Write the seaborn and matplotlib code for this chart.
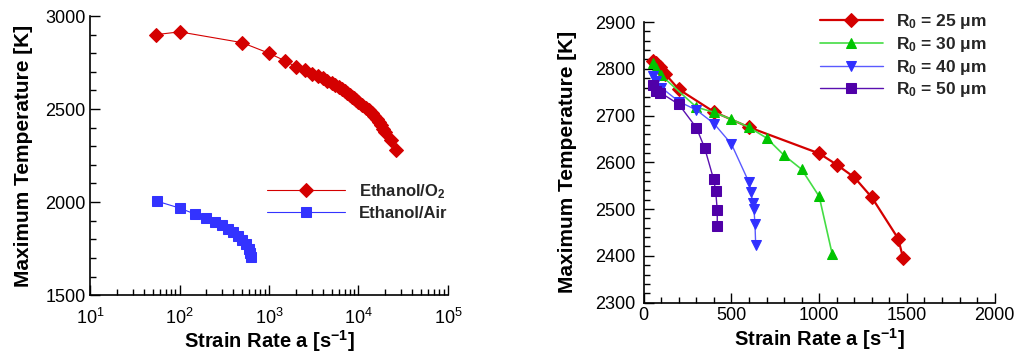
import numpy as np
import pandas as pd
import seaborn as sns
import matplotlib.pyplot as plt
from matplotlib.ticker import MultipleLocator, LogLocator, FuncFormatter, NullFormatter

# left panel: flame max temperature vs strain rate (log x)
o2_strain = [55, 100, 500, 1000, 1500, 2000, 2500, 3000, 3500, 4000, 4500, 5000, 5500,
             6000, 6500, 7000, 7500, 8000, 8500, 9000, 9500, 10000, 11000, 12000, 13000,
             14000, 15000, 16000, 17000, 18000, 19000, 20000, 23000, 26000]
o2_temp = [2900, 2915, 2857, 2800, 2760, 2727, 2708, 2690, 2677, 2665, 2652, 2640, 2628,
           2617, 2606, 2595, 2585, 2575, 2566, 2557, 2548, 2540, 2524, 2508, 2493,
           2478, 2462, 2446, 2430, 2413, 2395, 2376, 2333, 2282]
air_strain = [56, 100, 150, 200, 250, 300, 350, 400, 450, 500, 550, 600, 620, 625]
air_temp = [2005, 1968, 1935, 1914, 1892, 1876, 1855, 1837, 1817, 1796, 1773, 1747, 1724, 1705]

# right panel: droplet radius series
r25_strain = [50, 70, 90, 120, 200, 400, 600, 1000, 1100, 1200, 1300, 1450, 1478]
r25_temp = [2817, 2812, 2804, 2790, 2756, 2708, 2675, 2619, 2595, 2568, 2525, 2437, 2396]
r30_strain = [52, 68, 97, 300, 400, 500, 600, 700, 800, 900, 1000, 1074]
r30_temp = [2813, 2801, 2787, 2718, 2707, 2692, 2675, 2652, 2615, 2585, 2527, 2404]
r40_strain = [50, 70, 100, 200, 300, 400, 500, 600, 611, 621, 628, 634, 638]
r40_temp = [2785, 2775, 2760, 2730, 2712, 2683, 2639, 2557, 2537, 2514, 2500, 2468, 2423]
r50_strain = [53, 68, 95, 200, 300, 347, 398, 410, 419, 419]
r50_temp = [2765, 2753, 2749, 2724, 2674, 2631, 2564, 2539, 2497, 2464]

sns.set_theme(style="ticks")
plt.rcParams['font.family'] = ['Liberation Sans', 'DejaVu Sans']
plt.rcParams['mathtext.fontset'] = 'custom'
plt.rcParams['mathtext.rm'] = 'Liberation Sans'
plt.rcParams['mathtext.bf'] = 'Liberation Sans:bold'
plt.rcParams['mathtext.it'] = 'Liberation Sans:italic'

fig = plt.figure(figsize=(10.17, 3.56), dpi=100)
ax1 = fig.add_axes([0.0885, 0.171, 0.352, 0.784])
ax2 = fig.add_axes([0.633, 0.150, 0.345, 0.788])

red = '#d40000'
blue = '#3333ff'

sns.lineplot(x=o2_strain, y=o2_temp, ax=ax1, color=red, marker='D', markersize=7,
             markeredgecolor=red, linewidth=0.8, sort=False, estimator=None,
             label=r'Ethanol/O$_\mathbf{2}$')
sns.lineplot(x=air_strain, y=air_temp, ax=ax1, color=blue, marker='s', markersize=6.5,
             markeredgecolor=blue, linewidth=0.8, sort=False, estimator=None,
             label='Ethanol/Air')

ax1.set_xscale('log')
ax1.set_xlim(10, 1e5)
ax1.set_ylim(1500, 3000)
ax1.yaxis.set_major_locator(MultipleLocator(500))
ax1.yaxis.set_minor_locator(MultipleLocator(100))
ax1.xaxis.set_major_locator(LogLocator(base=10))
ax1.xaxis.set_minor_locator(LogLocator(base=10, subs=np.arange(2, 10)))
ax1.xaxis.set_minor_formatter(NullFormatter())
ax1.xaxis.set_major_formatter(FuncFormatter(lambda v, p: r'$\mathregular{10^{%d}}$' % round(np.log10(v))))

series = [
    (r25_strain, r25_temp, '#d40000', '#d40000', 'D', 7, 1.6, r'R$_\mathbf{0}$ = 25 μm'),
    (r30_strain, r30_temp, '#44dd44', '#00c400', '^', 7, 1.2, r'R$_\mathbf{0}$ = 30 μm'),
    (r40_strain, r40_temp, '#5a5aff', '#3030ff', 'v', 7, 1.0, r'R$_\mathbf{0}$ = 40 μm'),
    (r50_strain, r50_temp, '#5a10b0', '#5000a8', 's', 7, 1.0, r'R$_\mathbf{0}$ = 50 μm'),
]
for xs, ys, lc, mc, mk, ms, lw, lab in series:
    sns.lineplot(x=xs, y=ys, ax=ax2, color=lc, marker=mk, markersize=ms,
                 markerfacecolor=mc, markeredgecolor=mc, linewidth=lw,
                 sort=False, estimator=None, label=lab)

ax2.set_xlim(0, 2000)
ax2.set_ylim(2300, 2900)
ax2.xaxis.set_major_locator(MultipleLocator(500))
ax2.xaxis.set_minor_locator(MultipleLocator(100))
ax2.yaxis.set_major_locator(MultipleLocator(100))
ax2.yaxis.set_minor_locator(MultipleLocator(20))

for ax in (ax1, ax2):
    sns.despine(ax=ax)
    ax.spines['left'].set_linewidth(1.2)
    ax.spines['bottom'].set_linewidth(1.2)
    ax.spines['left'].set_color('black')
    ax.spines['bottom'].set_color('black')
    ax.tick_params(which='major', direction='in', length=7, width=1, color='black',
                   labelsize=13, labelcolor='black')
    ax.tick_params(which='minor', direction='in', length=4, width=1, color='black')
    ax.set_xlabel(r'Strain Rate a [s$^\mathbf{-1}$]', fontsize=14.5, fontweight='bold',
                  color='black', labelpad=2)
    ax.set_ylabel('Maximum Temperature [K]', fontsize=15, fontweight='bold',
                  color='black')

ax1.tick_params(axis='y', which='major', pad=3)
ax1.tick_params(axis='x', which='major', pad=9)
ax2.tick_params(axis='y', which='major', pad=6)
ax2.tick_params(axis='x', which='major', pad=3)
ax1.yaxis.labelpad = 9
ax2.yaxis.labelpad = 13
ax1.xaxis.labelpad = 0

leg1 = ax1.legend(loc='upper left', bbox_to_anchor=(267 / 1017, 1 - 182 / 356),
                  bbox_transform=fig.transFigure, frameon=False, borderpad=0,
                  borderaxespad=0, handlelength=4.7, handletextpad=0.8,
                  labelspacing=0.3, prop={'weight': 'bold', 'size': 12})
leg2 = ax2.legend(loc='upper left', bbox_to_anchor=(820 / 1017, 1 - 12 / 356),
                  bbox_transform=fig.transFigure, frameon=False, borderpad=0,
                  borderaxespad=0, handlelength=3.6, handletextpad=0.8,
                  labelspacing=0.22, prop={'weight': 'bold', 'size': 12.5})

fig.savefig('out.png', dpi=100)
